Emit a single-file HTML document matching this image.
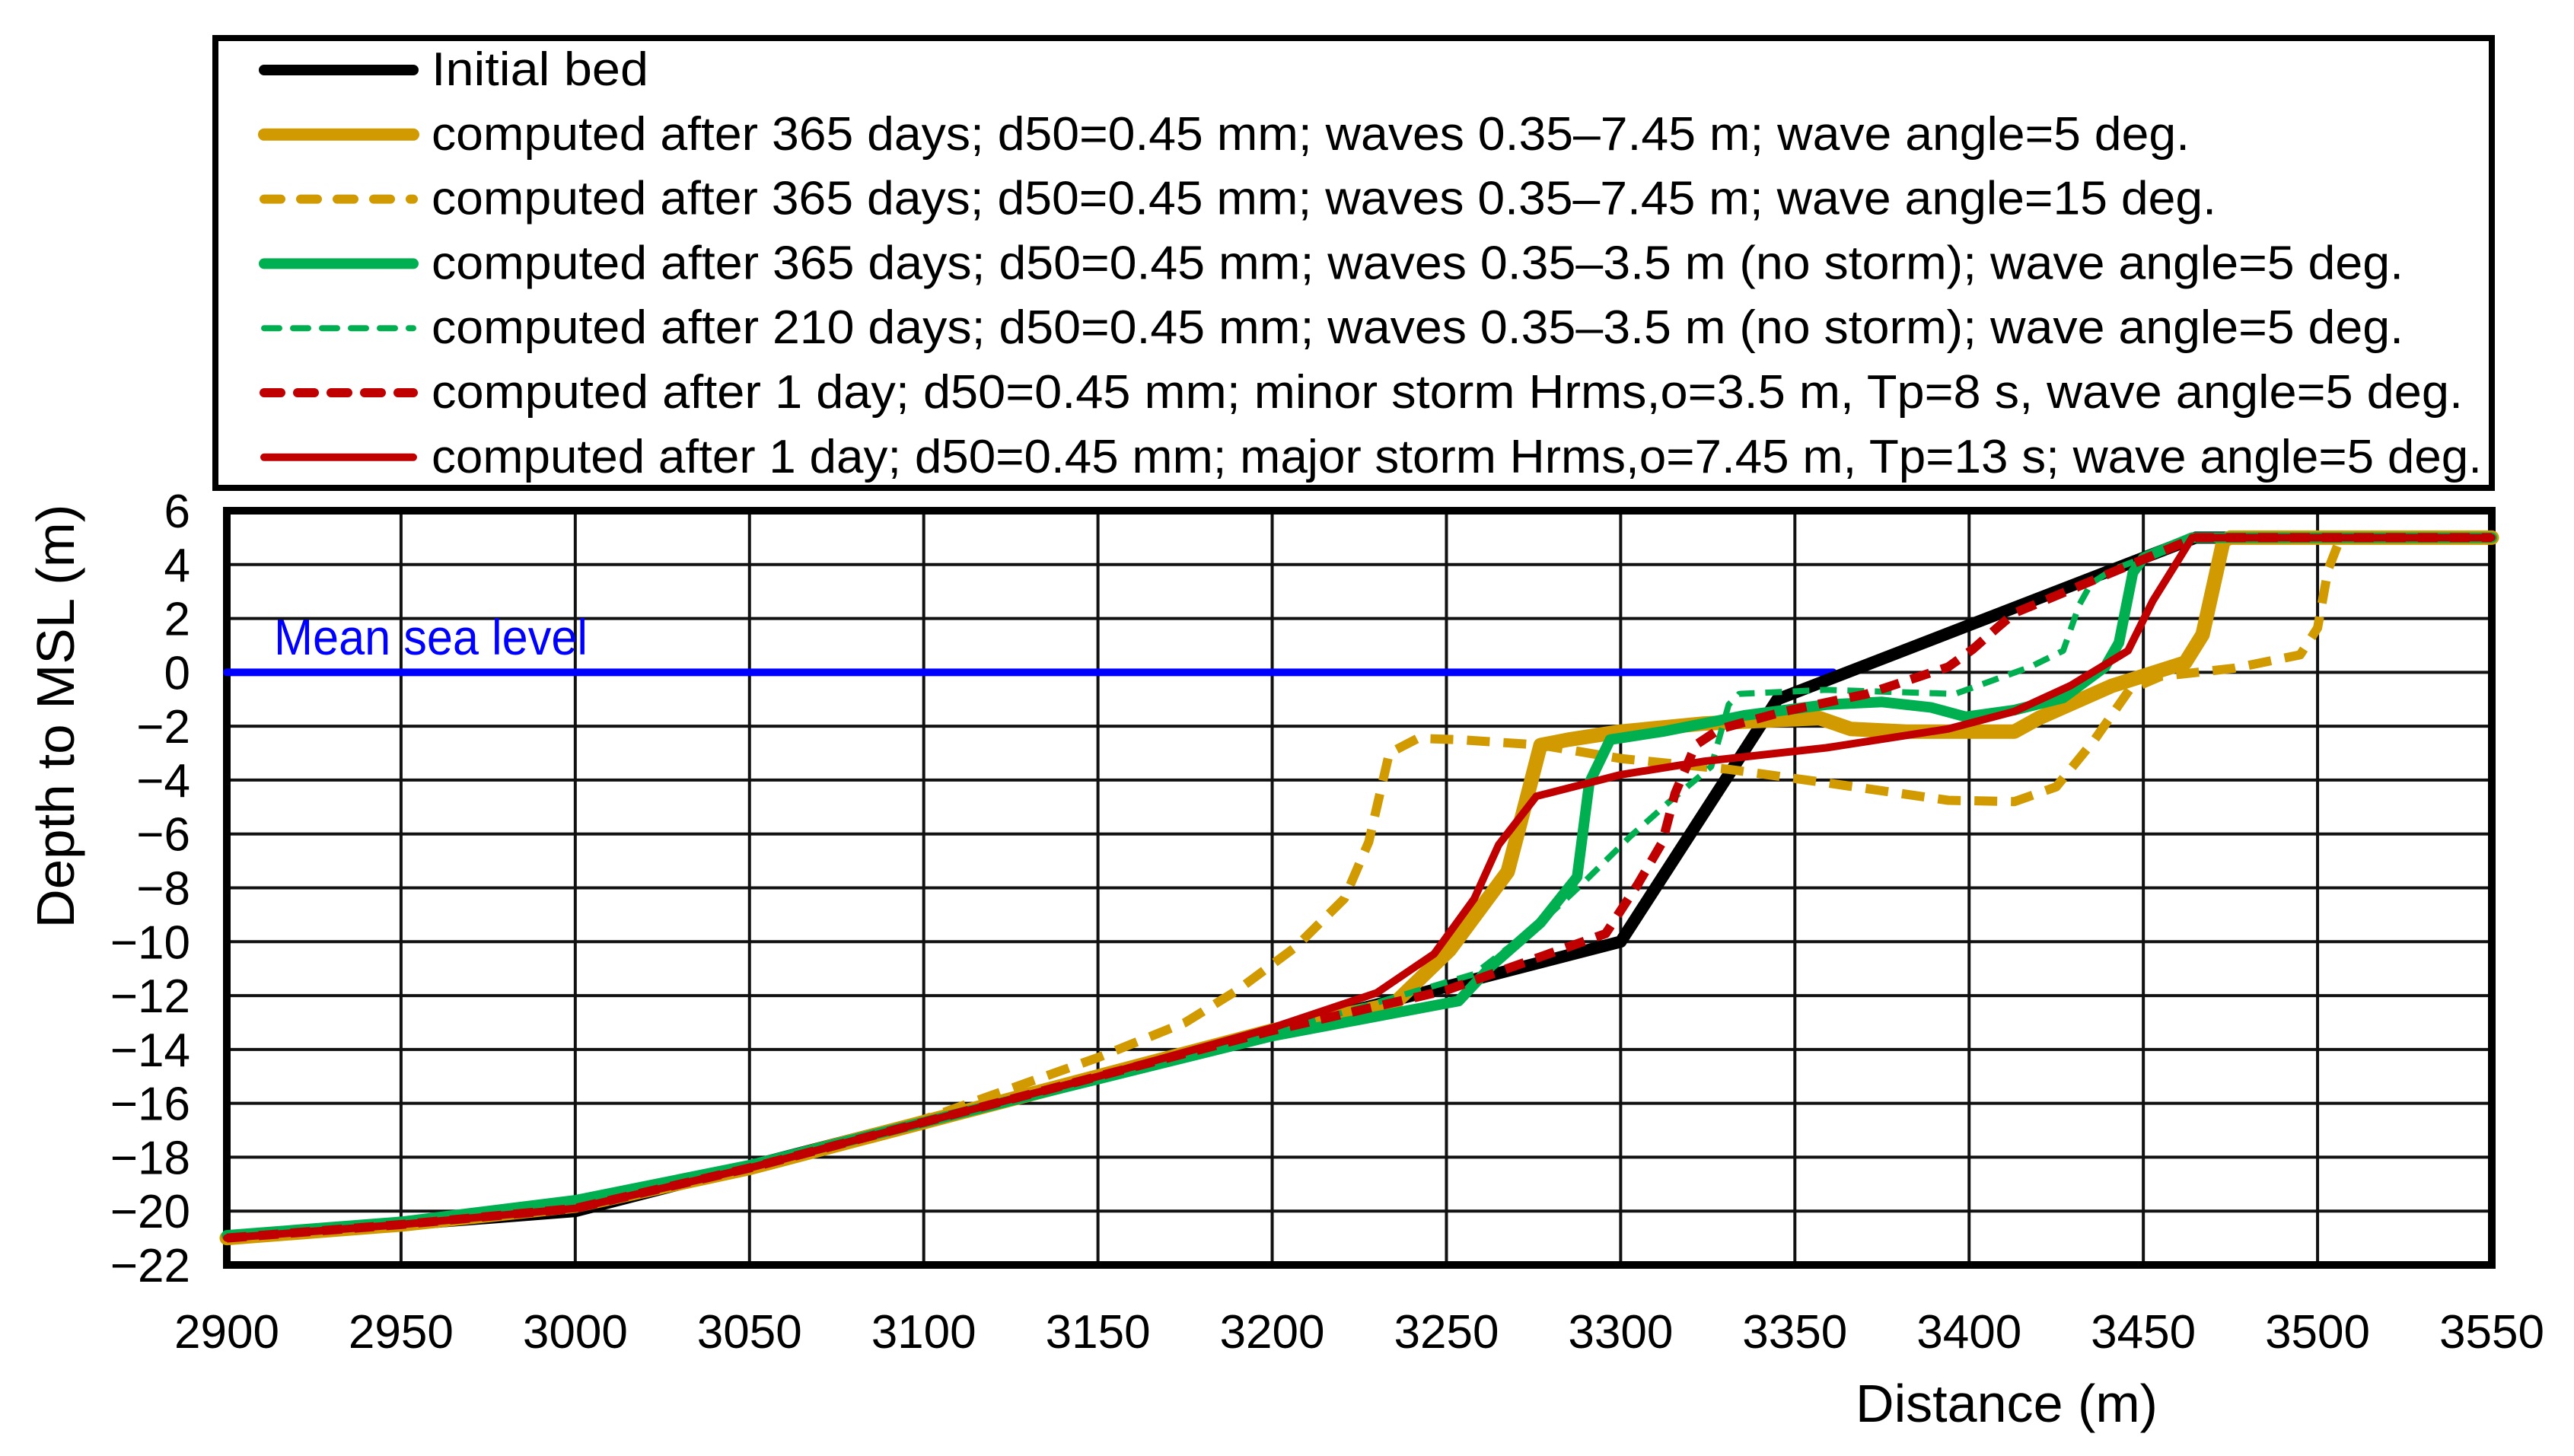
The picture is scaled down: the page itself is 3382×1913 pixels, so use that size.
<!DOCTYPE html>
<html><head><meta charset="utf-8"><style>
html,body{margin:0;padding:0;background:#fff;}
svg{display:block;font-family:"Liberation Sans",sans-serif;}
</style></head><body>
<svg id="chart" width="3382" height="1913" viewBox="0 0 3382 1913" xmlns="http://www.w3.org/2000/svg">
<rect x="0" y="0" width="3382" height="1913" fill="#fff"/>
<g id="grid"></g>
<g id="axes"></g>
<g id="series"></g>
<g id="legend"></g>
</svg>
<script>
const xTicks = [2900,2950,3000,3050,3100,3150,3200,3250,3300,3350,3400,3450,3500,3550];
const yTicks = [6,4,2,0,-2,-4,-6,-8,-10,-12,-14,-16,-18,-20,-22];
const msl = [[2900,0],[3361,0]];
const initialBed = [[2900,-21],[2950,-20.5],[3000,-20],[3300,-10],[3345,-1],[3465,5],[3550,5]];
const gold365 = [[2900,-21],[2950,-20.5],[3000,-19.8],[3050,-18.4],[3100,-16.7],[3150,-15],[3200,-13.3],[3235,-12.3],[3251,-10.3],[3267.6,-7.4],[3273,-4.7],[3277,-2.7],[3285,-2.5],[3300,-2.2],[3324,-1.9],[3357,-1.7],[3366,-2.1],[3382,-2.2],[3413,-2.2],[3420,-1.7],[3441,-0.5],[3462,0.36],[3467,1.4],[3473,4.9],[3475,5],[3550,5]];
const gold365a15 = [[2900,-21],[2950,-20.5],[3000,-19.8],[3050,-18.4],[3100,-16.6],[3150,-14.3],[3175,-13],[3190,-11.8],[3206.7,-10.2],[3220.7,-8.4],[3227.7,-6.3],[3233.6,-3],[3241.8,-2.45],[3253.5,-2.5],[3277,-2.7],[3300,-3.2],[3331,-3.6],[3359,-4.1],[3394,-4.75],[3413,-4.8],[3425,-4.25],[3436,-2.5],[3446,-0.65],[3455,-0.15],[3476,0.15],[3495,0.65],[3500,1.65],[3503,3.8],[3506.6,5],[3550,5]];
const green365 = [[2900,-20.9],[2950,-20.4],[3000,-19.6],[3050,-18.3],[3100,-16.7],[3150,-15.1],[3200,-13.5],[3253.5,-12.2],[3262.9,-10.9],[3277,-9.3],[3287.5,-7.6],[3291,-4.1],[3297,-2.5],[3312,-2.2],[3335.5,-1.6],[3359,-1.2],[3375,-1.1],[3389,-1.3],[3399,-1.65],[3413,-1.4],[3427,-0.95],[3439,0.2],[3443,1.1],[3447,3.7],[3450,4.25],[3464,5],[3550,5]];
const green210 = [[2900,-20.9],[2950,-20.4],[3000,-19.7],[3050,-18.3],[3100,-16.7],[3150,-15.1],[3200,-13.4],[3258,-11.2],[3277,-9.3],[3289,-7.85],[3302.7,-6.1],[3314,-4.8],[3326,-3.5],[3331,-1.2],[3334,-0.8],[3359,-0.65],[3396,-0.8],[3417.5,0.2],[3427,0.8],[3431.6,2.5],[3435,3.3],[3441,3.8],[3465,5],[3550,5]];
const redMinor = [[2900,-21],[2950,-20.5],[3000,-19.9],[3050,-18.4],[3100,-16.7],[3150,-15],[3200,-13.3],[3250,-11.8],[3295.7,-9.7],[3305,-7.85],[3312,-6.3],[3315.6,-4.5],[3321.5,-2.7],[3328.5,-2.1],[3347,-1.45],[3370.7,-0.8],[3394,0.2],[3401,0.85],[3408,1.65],[3413,2.2],[3465,5],[3550,5]];
const redMajor = [[2900,-21],[2950,-20.5],[3000,-19.9],[3050,-18.4],[3100,-16.7],[3150,-15],[3200,-13.2],[3230,-11.9],[3246.5,-10.45],[3258,-8.4],[3265,-6.4],[3275.8,-4.6],[3300,-3.8],[3324,-3.3],[3359,-2.8],[3394,-2.1],[3413,-1.45],[3429,-0.5],[3445.6,0.8],[3452.7,2.65],[3459.7,4.1],[3464,5],[3550,5]];
const legendLabels = ["Initial bed",
"computed after 365 days; d50=0.45 mm; waves 0.35\u20137.45 m; wave angle=5 deg.",
"computed after 365 days; d50=0.45 mm; waves 0.35\u20137.45 m; wave angle=15 deg.",
"computed after 365 days; d50=0.45 mm; waves 0.35\u20133.5 m (no storm); wave angle=5 deg.",
"computed after 210 days; d50=0.45 mm; waves 0.35\u20133.5 m (no storm); wave angle=5 deg.",
"computed after 1 day; d50=0.45 mm; minor storm Hrms,o=3.5 m, Tp=8 s, wave angle=5 deg.",
"computed after 1 day; d50=0.45 mm; major storm Hrms,o=7.45 m, Tp=13 s; wave angle=5 deg."];

const NS="http://www.w3.org/2000/svg";
const L=298,R=3274,T=671,B=1662, X0=2900,X1=3550,Y0=-22,Y1=6;
function sx(v){return L+(v-X0)/(X1-X0)*(R-L);}
function sy(v){return B-(v-Y0)/(Y1-Y0)*(B-T);}
function mk(tag,attrs,parent){const e=document.createElementNS(NS,tag);for(const k in attrs)e.setAttribute(k,attrs[k]);parent.appendChild(e);return e;}
const grid=document.getElementById('grid'),axes=document.getElementById('axes'),ser=document.getElementById('series'),leg=document.getElementById('legend');

xTicks.forEach(t=>{
  const ln=mk('line',{x1:sx(t),x2:sx(t),y1:T,y2:B,stroke:'#111','stroke-width':4},grid);
  
  
  const tx=mk('text',{x:sx(t),y:1771,'text-anchor':'middle','font-size':62,textLength:138,lengthAdjust:'spacingAndGlyphs',fill:'#000'},axes);
  tx.textContent=t;
  
  
});
yTicks.forEach(t=>{
  const ln=mk('line',{x1:L,x2:R,y1:sy(t),y2:sy(t),stroke:'#111','stroke-width':4},grid);
  
  
  const tx=mk('text',{x:250,y:sy(t)+22,'text-anchor':'end','font-size':62,fill:'#000'},axes);
  tx.textContent=(t<0?'\u2212':'')+Math.abs(t);
  
  
});
const frame=mk('rect',{x:L,y:T,width:R-L,height:B-T,fill:'none',stroke:'#000','stroke-width':10},axes);


const xt=mk('text',{x:2438,y:1868,'font-size':70,textLength:397,lengthAdjust:'spacingAndGlyphs',fill:'#000'},axes);
xt.textContent='Distance (m)';


const yt=mk('text',{x:0,y:0,'font-size':70,'text-anchor':'middle',textLength:557,lengthAdjust:'spacingAndGlyphs',fill:'#000',transform:'translate(97,941) rotate(-90)'},axes);
yt.textContent='Depth to MSL (m)';



function path(pts){return pts.map((p,i)=>(i?'L':'M')+sx(p[0]).toFixed(1)+','+sy(p[1]).toFixed(1)).join(' ');}
const styles=[
 {d:msl,c:'#0000ff',w:10,dash:null,n:'mean-sea-level-line'},
 {d:initialBed,c:'#000',w:16,dash:null,n:'initial-bed-line'},
 {d:gold365a15,c:'#d09a00',w:12,dash:'30 18',n:'gold-dashed-365d-15deg-line'},
 {d:gold365,c:'#d09a00',w:19,dash:null,n:'gold-365d-5deg-line'},
 {d:green365,c:'#00b050',w:14,dash:null,n:'green-365d-no-storm-line'},
 {d:green210,c:'#00b050',w:8,dash:'22 14',n:'green-dashed-210d-line'},
 {d:redMinor,c:'#c00000',w:12,dash:'26 16',n:'red-dashed-minor-storm-line'},
 {d:redMajor,c:'#c00000',w:10,dash:null,n:'red-major-storm-line'}];
styles.forEach(s=>{
  const a={d:path(s.d),fill:'none',stroke:s.c,'stroke-width':s.w,'stroke-linejoin':'round','stroke-linecap':s.dash?'butt':'round'};
  if(s.dash)a['stroke-dasharray']=s.dash;
  const p=mk('path',a,ser);
  
  
});
const mt=mk('text',{x:360,y:860,'font-size':66,textLength:412,lengthAdjust:'spacingAndGlyphs',fill:'#0000ff'},ser);
mt.textContent='Mean sea level';



const lb=mk('rect',{x:283,y:50,width:2991,height:591,fill:'#fff',stroke:'#000','stroke-width':8},leg);


const lstyle=[{c:'#000',w:14},{c:'#d09a00',w:16},{c:'#d09a00',w:12,dash:'22 26'},{c:'#00b050',w:14},{c:'#00b050',w:8,dash:'20 18'},{c:'#c00000',w:12,dash:'22 22'},{c:'#c00000',w:10}];
const lens=[285,2310,2345,2591,2591,2669,2694];
legendLabels.forEach((t,i)=>{
  const cy=92+84.8*i;
  const a={x1:347,x2:543,y1:cy,y2:cy,stroke:lstyle[i].c,'stroke-width':lstyle[i].w,'stroke-linecap':'round'};
  if(lstyle[i].dash)a['stroke-dasharray']=lstyle[i].dash;
  const ln=mk('line',a,leg);
  
  
  const tx=mk('text',{x:567,y:cy+20,'font-size':62,textLength:lens[i],lengthAdjust:'spacingAndGlyphs',fill:'#000'},leg);
  tx.textContent=t;
  
  
});
</script>
</body></html>
